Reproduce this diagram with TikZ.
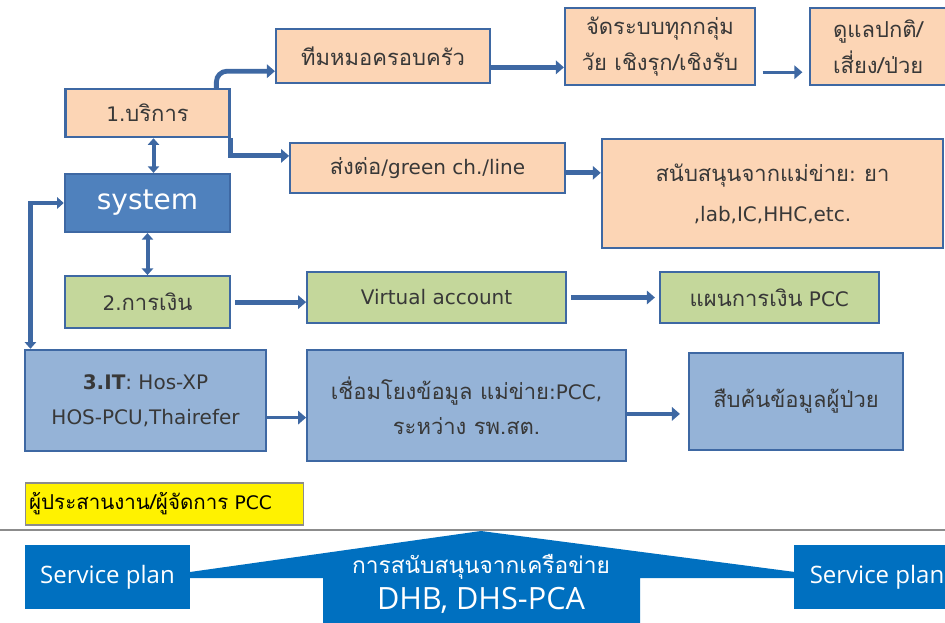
\documentclass[tikz,border=0pt]{standalone}
\usepackage{fontspec}
\setmainfont{DejaVu Sans}
\newfontfamily\thaifont[Script=Thai,Scale=1.1]{Loma}
\newfontfamily\netfont{Open Sans}
\newcommand{\thtext}[1]{{\thaifont #1}}
\usetikzlibrary{positioning,arrows.meta}
\definecolor{peach}{RGB}{252,213,181}
\definecolor{olive}{RGB}{196,215,155}
\definecolor{skyblue}{RGB}{149,179,215}
\definecolor{sysblue}{RGB}{79,129,189}
\definecolor{edgeblue}{RGB}{62,104,163}
\definecolor{netblue}{RGB}{0,112,192}
\tikzset{line/.style={draw=edgeblue, line width=3.6pt, -{Triangle[length=6pt,width=10pt]}}}

\begin{document}
\begin{tikzpicture}[x=0.75pt, y=-0.75pt, text=black!78, font=\fontsize{15}{27}\selectfont]
\tikzstyle{block} = [rectangle, draw=edgeblue, line width=1.6pt, fill=peach, align=center, inner sep=2pt]
\tikzstyle{money} = [block, fill=olive]
\tikzstyle{itbox} = [block, fill=skyblue, font=\fontsize{15}{26.5}\selectfont]
\tikzstyle{plan} = [rectangle, fill=netblue, text=white, minimum width=124pt, minimum height=48pt, font=\netfont\fontsize{18}{21}\selectfont]
\tikzstyle{twin} = [draw=edgeblue, line width=3pt, {Triangle[length=5pt,width=8.5pt]}-{Triangle[length=5pt,width=8.5pt]}]

\useasboundingbox (0,0) rectangle (945,623);
\clip (0,0) rectangle (945,623);

% service branch
\node [block, fill=sysblue, text=white, minimum width=124pt, minimum height=43.5pt, font=\fontsize{21}{24}\selectfont](sys) at (147.5,203){system};
\node [block, above=26pt of sys, minimum width=123pt, minimum height=36pt](serv){1.\thtext{บริการ}};
\node [block, minimum width=160.5pt, minimum height=40.5pt](team) at (383,56){\thtext{ทีมหมอครอบครัว}};
\node [block, minimum width=142.5pt, minimum height=58pt](sched) at (660,46.5){\thtext{จัดระบบทุกกลุ่ม}\\\thtext{วัย เชิงรุก/เชิงรับ}};
\node [block, right=39.75pt of sched, minimum width=102pt, minimum height=58pt](care){\thtext{ดูแลปกติ/}\\\thtext{เสี่ยง/ป่วย}};
\node [block, minimum width=206pt, minimum height=37.5pt](refer) at (427.5,168){\thtext{ส่งต่อ}/green ch./line};
\node [block, minimum width=256pt, minimum height=82pt, font=\fontsize{15}{30}\selectfont](support) at (772.5,193.5){\thtext{สนับสนุนจากแม่ข่าย}: \thtext{ยา}\\,lab,IC,HHC,etc.};

% finance branch
\node [money, below=31.5pt of sys, minimum width=124pt, minimum height=39pt](fin){2.\thtext{การเงิน}};
\node [money, minimum width=194pt, minimum height=38pt](virt) at (436.5,297.5){Virtual account};
\node [money, right=69pt of virt, minimum width=164pt, minimum height=38pt](pccplan){\thtext{แผนการเงิน} PCC};

% IT branch
\node [itbox, minimum width=181pt, minimum height=76pt](it) at (145.5,400.5){\textbf{3.IT}: Hos-XP\\HOS-PCU,Thairefer};
\node [itbox, minimum width=239pt, minimum height=83pt](link) at (466.5,405.5){\thtext{เชื่อมโยงข้อมูล แม่ข่าย}:PCC,\\\thtext{ระหว่าง รพ.สต.}};
\node [itbox, minimum width=160.5pt, minimum height=73pt](search) at (796,401.5){\thtext{สืบค้นข้อมูลผู้ป่วย}};

\node [rectangle, draw=black!45, line width=0.8pt, fill=yellow, minimum width=209pt, minimum height=31.5pt, text width=203pt, align=left, inner sep=2pt, text=black, font=\fontsize{14}{16}\selectfont](coord) at (164.5,504){\thtext{ผู้ประสานงาน/ผู้จัดการ} PCC};

\draw [black!45, line width=1.5pt] (0,530) -- (945,530);

% network support
\fill [netblue] (190,572) -- (481,531) -- (795,572) -- (795,578) -- (640,578) -- (640,640) -- (323,640) -- (323,578) -- (190,578) -- cycle;
\node [plan](sp1) at (107.5,577){Service plan};
\node [plan](sp2) at (877,577){Service plan};
\node [text=white, font=\fontsize{15.5}{18}\selectfont](net) at (481,567){\thtext{การสนับสนุนจากเครือข่าย}};
\node [text=white, font=\netfont\fontsize{23}{26}\selectfont, below=-1pt of net](dhb){DHB, DHS-PCA};

\path [line, rounded corners=8pt] (serv.20) |- (team.188);
\path [line] (serv.south east) |- (refer.175);
\path [line] (team.-6) -- (team.-6 -| sched.west);
\path [line, line width=2.4pt, shorten <=5pt, shorten >=5pt] (sched.-15) -- (sched.-15 -| care.west);
\path [line] (refer.-2) -- (refer.-2 -| support.west);
\draw [twin] ([xshift=4.5pt]serv.south) -- ([xshift=4.5pt]sys.north);
\draw [twin] (sys.south) -- (fin.north);
\draw [twin, line width=3.6pt] ([xshift=5pt]it.north west) |- (sys.west);
\path [line, shorten <=3pt] (fin.east) -- (fin.east -| virt.west);
\path [line, shorten <=3pt, shorten >=3pt] (virt.east) -- (virt.east -| pccplan.west);
\path [line, line width=2.6pt] (it.-8) -- (it.-8 -| link.west);
\path [line, shorten >=6pt] (link.-3) -- (link.-3 -| search.west);

\end{tikzpicture}
\end{document}
